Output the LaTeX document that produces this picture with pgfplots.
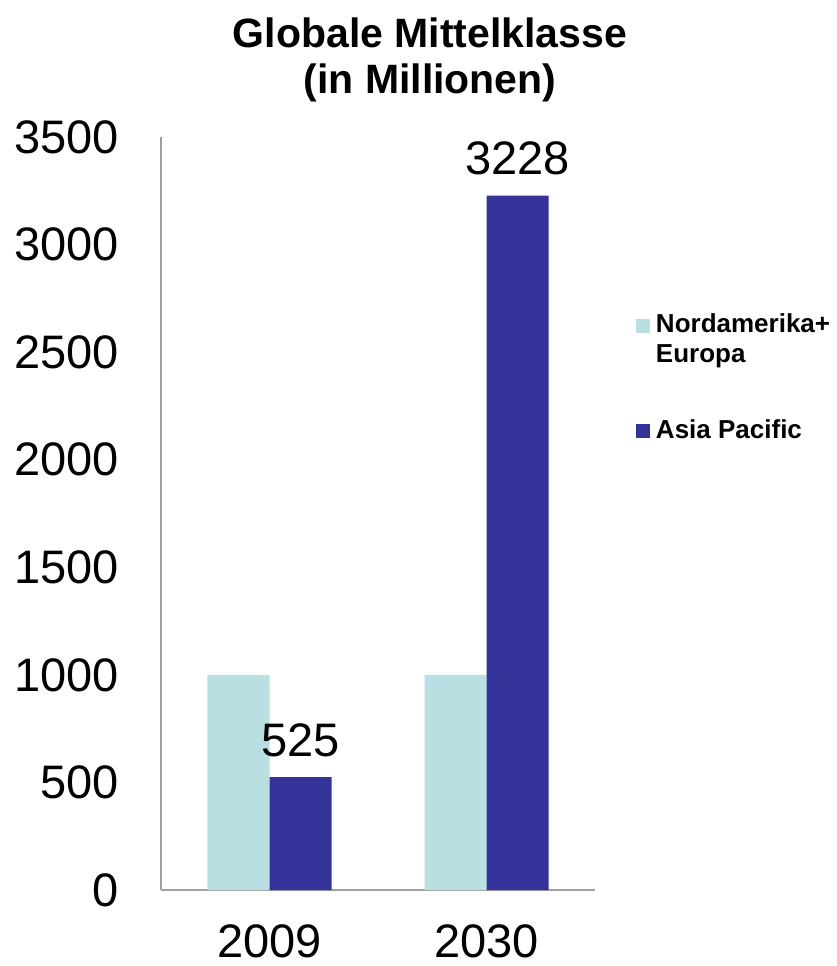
\documentclass[border=0pt]{standalone}
\usepackage{fontspec}
\setmainfont{Liberation Sans}
\usepackage{pgfplots}
\pgfplotsset{compat=1.18}
\definecolor{nordeu}{RGB}{185,223,226}
\definecolor{asiapac}{RGB}{51,51,153}
\definecolor{axisgray}{RGB}{160,160,160}

\begin{document}
\begin{tikzpicture}
\useasboundingbox (-161pt,-76pt) rectangle (675pt,890pt);
\begin{axis}[
    scale only axis,
    width=434pt, height=753pt,
    xmin=-0.5, xmax=1.5,
    ymin=0, ymax=3500,
    ytick={0,500,...,3500},
    xtick={0,1}, xticklabels={2009,2030},
    axis lines=left,
    axis line style={draw=axisgray, line width=1.5pt, -},
    major tick length=0pt,
    /pgf/number format/assume math mode=true,
    /pgf/number format/1000 sep={},
    tick label style={font=\fontsize{47}{56}\selectfont, inner sep=0pt},
    yticklabel style={anchor=east, xshift=-42pt},
    xticklabel style={anchor=north, yshift=-34pt},
    ybar=0pt, bar width=62pt,
    legend cell align=left,
    legend style={draw=none, fill=none, inner sep=0pt,
        at={(rel axis cs:1.094,0.765)}, anchor=north west,
        font=\bfseries\fontsize{26}{30}\selectfont,
        nodes={inner sep=0pt},
        cells={anchor=base west},
        row sep=85pt,
        /tikz/every odd column/.append style={column sep=6pt}},
    legend image code/.code={\fill[#1] (0pt,0pt) rectangle (14pt,14pt);},
    title={Globale Mittelklasse\\(in Millionen)},
    title style={font=\bfseries\fontsize{41}{46}\selectfont, align=center,
        inner sep=0pt, anchor=north, at={(rel axis cs:0.62,1.150)}},
    clip=false,
]
\addplot[fill=nordeu, draw=none] coordinates {(0,1000) (1,1000)};
\addplot[fill=asiapac, draw=none,
    nodes near coords,
    nodes near coords style={font=\fontsize{47}{56}\selectfont, text=black,
        anchor=south, inner sep=0pt, yshift=20pt}]
    coordinates {(0,525) (1,3228)};
\legend{\vtop{\hbox{Nordamerika+}\hbox{Europa}}, Asia Pacific}
\end{axis}
\end{tikzpicture}
\end{document}
